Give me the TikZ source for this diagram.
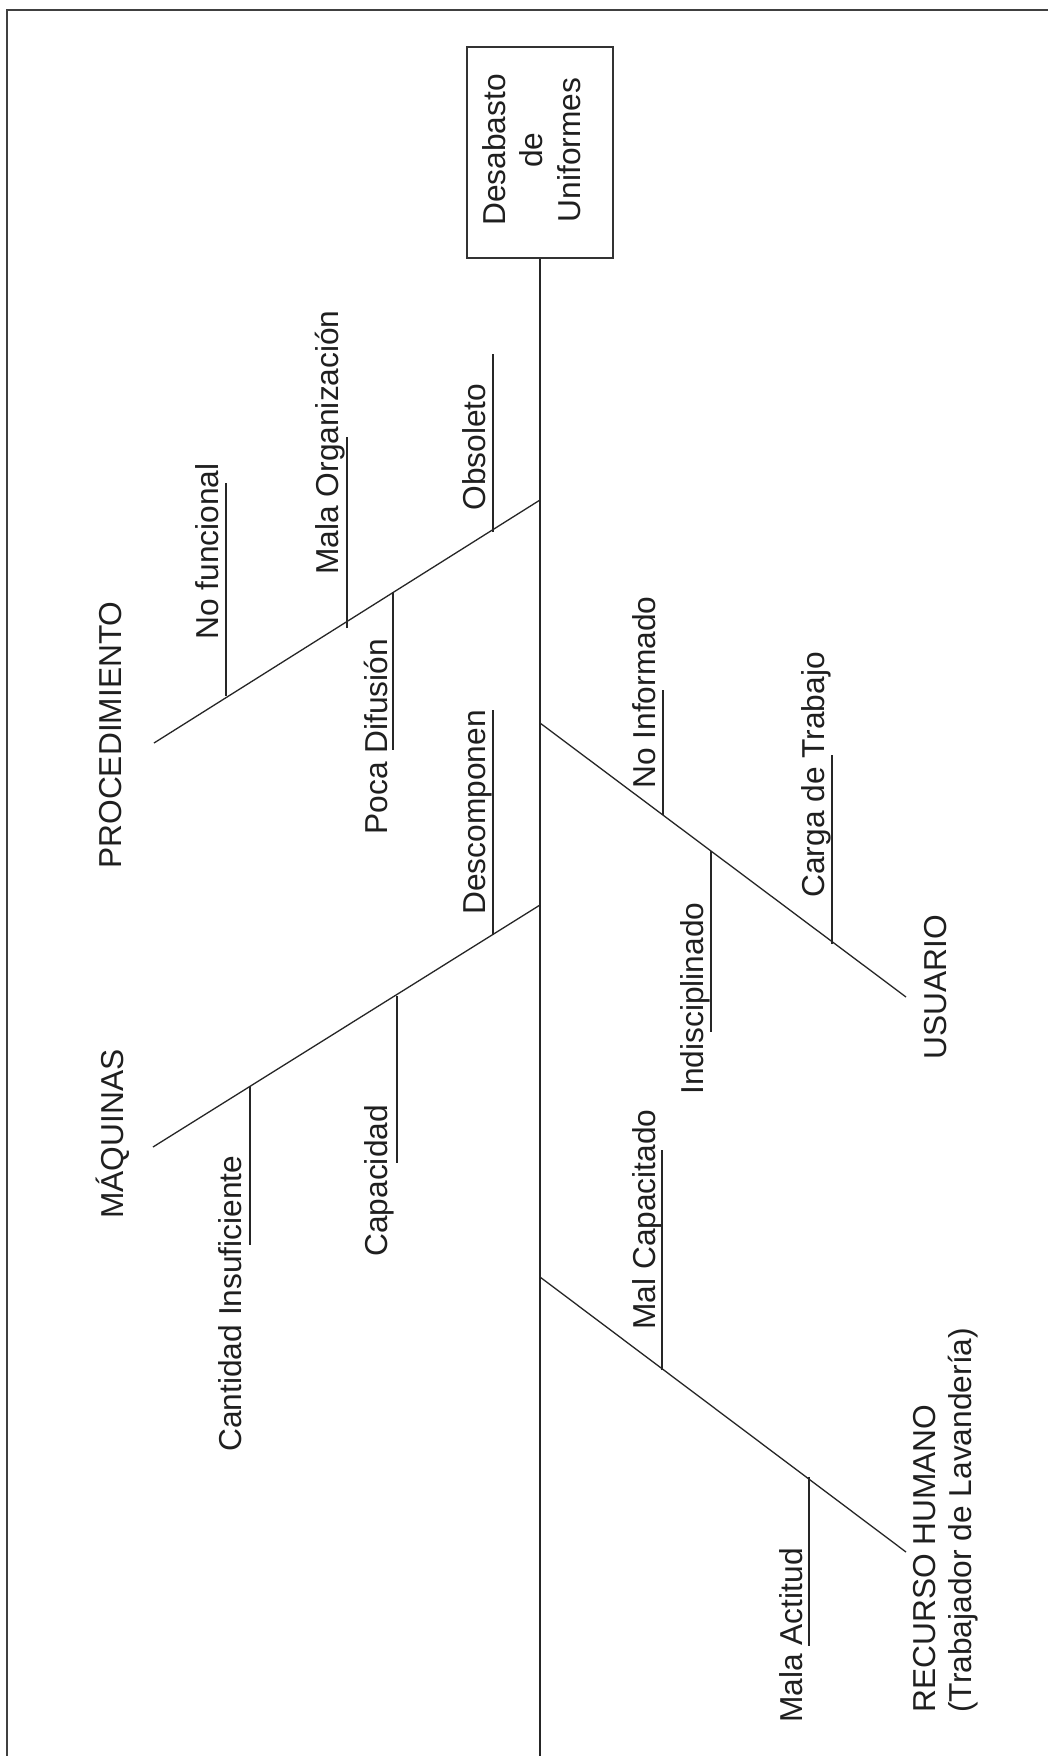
\documentclass[tikz,border=0pt]{standalone}
\usepackage{fontspec}
\setmainfont{Liberation Sans}
\begin{document}
\begin{tikzpicture}[x=0.5pt,y=-0.5pt,
  bone/.style={line width=0.65pt, draw=black!85},
  uline/.style={line width=0.6pt, draw=black!85},
  frameline/.style={line width=1pt, draw=black!75},
  lbl/.style={rotate=90, inner sep=0pt, anchor=base west, text=black!88,
    font=\fontsize{15.85pt}{18pt}\selectfont}]
\useasboundingbox (0,0) rectangle (1048,1756);
\fill[white] (0,0) rectangle (1048,1756);
% frame
\coordinate (fr1) at (1048,10);
\coordinate (fr2) at (7,10);
\coordinate (fr3) at (7,1756);
\draw[frameline] (fr1) -- (fr2) -- (fr3);
% effect box
\node[draw=black!80, line width=0.8pt, rotate=90, minimum width=105.5pt, minimum height=73pt, inner sep=0pt] (effect) at (540,152.5) {};
\node[rotate=90, inner sep=0pt, anchor=north, align=center, text=black!88,
  font=\fontsize{15.85pt}{18.75pt}\selectfont] (effecttxt) at (482,150) {Desabasto\\de\\Uniformes};
% spine
\coordinate (spineend) at (540,1756);
\draw[bone] (effect.west) -- (spineend);
% bones
\coordinate (pr0) at (540,500);  \coordinate (pr1) at (154,743);
\coordinate (mq0) at (540,905);  \coordinate (mq1) at (153,1147);
\coordinate (us0) at (540,723);  \coordinate (us1) at (906,997);
\coordinate (rh0) at (540,1277); \coordinate (rh1) at (906,1552);
\draw[bone] (pr0) -- (pr1);
\draw[bone] (mq0) -- (mq1);
\draw[bone] (us0) -- (us1);
\draw[bone] (rh0) -- (rh1);
% category labels
\node[lbl] (proc) at (121,869) {PROCEDIMIENTO};
\node[lbl] (maq) at (123,1219) {MÁQUINAS};
\node[lbl] (usu) at (946,1060) {USUARIO};
\node[rotate=90, inner sep=0pt, anchor=north west, align=left, text=black!88,
  font=\fontsize{15.85pt}{18pt}\selectfont] (rh) at (913,1713) {RECURSO HUMANO\\(Trabajador de Lavandería)};
% causes
\node[lbl] (c1) at (218,640) {No funcional};
\node[lbl] (c2) at (338,575) {Mala Organización};
\node[lbl] (c3) at (485,511) {Obsoleto};
\node[lbl] (c4) at (387,835) {Poca Difusión};
\node[lbl] (c5) at (485,915) {Descomponen};
\node[lbl] (c6) at (387,1257) {Capacidad};
\node[lbl] (c7) at (241,1452) {Cantidad Insuficiente};
\node[lbl] (c8) at (655,789) {No Informado};
\node[lbl] (c9) at (824,898) {Carga de Trabajo};
\node[lbl] (c10) at (703,1095) {Indisciplinado};
\node[lbl] (c11) at (655,1330) {Mal Capacitado};
\node[lbl] (c12) at (802,1723) {Mala Actitud};
% underlines (from bone)
\coordinate (u1a) at (226,696);  \coordinate (u1b) at (226,483);
\coordinate (u2a) at (347,628);  \coordinate (u2b) at (347,437);
\coordinate (u3a) at (493,532);  \coordinate (u3b) at (493,354);
\coordinate (u4a) at (393,592);  \coordinate (u4b) at (393,750);
\coordinate (u5a) at (493,935);  \coordinate (u5b) at (493,710);
\coordinate (u6a) at (397,996);  \coordinate (u6b) at (397,1163);
\coordinate (u7a) at (250,1086); \coordinate (u7b) at (250,1245);
\coordinate (u8a) at (663,815);  \coordinate (u8b) at (663,690);
\coordinate (u9a) at (832,944);  \coordinate (u9b) at (832,755);
\coordinate (u10a) at (711,851); \coordinate (u10b) at (711,1032);
\coordinate (u11a) at (662,1370);\coordinate (u11b) at (662,1150);
\coordinate (u12a) at (809,1477);\coordinate (u12b) at (809,1646);
\foreach \i in {1,...,12} {\draw[uline] (u\i a) -- (u\i b);}
\end{tikzpicture}
\end{document}
